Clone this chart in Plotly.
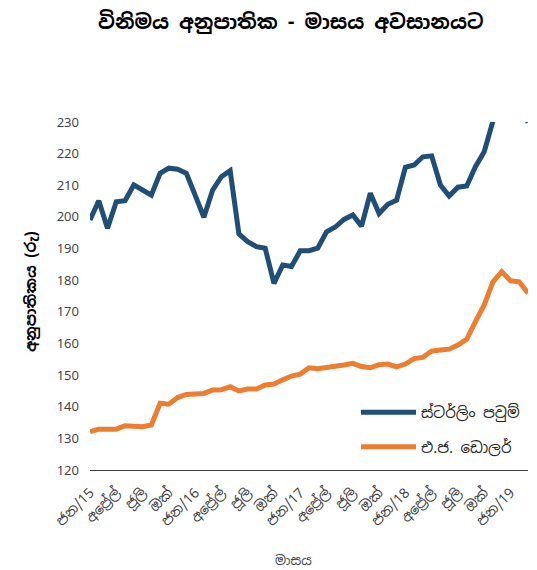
import plotly.graph_objects as go

tick_labels = ["ජන/15", "අප්‍රේල්", "ජූලි", "ඔක්", "ජන/16", "අප්‍රේල්", "ජූලි", "ඔක්",
               "ජන/17", "අප්‍රේල්", "ජූලි", "ඔක්", "ජන/18", "අප්‍රේල්", "ජූලි", "ඔක්", "ජන/19"]

months = list(range(51))  # Jan 2015 .. Mar 2019, month-end

gbp = [199.0, 205.1, 196.4, 204.8, 205.1, 210.1, 208.5, 206.9, 213.8, 215.4,
       215.1, 213.8, 206.9, 199.9, 208.5, 212.7, 214.6, 194.6, 192.2, 190.6,
       190.1, 179.0, 184.8, 184.3, 189.3, 189.3, 190.1, 195.3, 196.8, 199.2,
       200.6, 197.1, 207.5, 201.1, 204.0, 205.3, 215.7, 216.4, 219.0, 219.3,
       210.1, 206.6, 209.4, 209.8, 215.9, 220.6, 230.3, 232.5, 236.5, 238.5,
       229.8]

usd = [132.1, 132.9, 132.9, 132.9, 134.0, 133.7, 133.7, 134.2, 141.1, 140.8,
       142.9, 143.9, 143.9, 144.2, 145.3, 145.4, 146.3, 145.0, 145.6, 145.6,
       146.9, 147.2, 148.5, 149.7, 150.3, 152.3, 152.0, 152.3, 152.7, 153.2,
       153.7, 152.7, 152.3, 153.3, 153.5, 152.6, 153.5, 155.2, 155.6, 157.6,
       157.9, 158.2, 159.5, 161.3, 166.9, 172.2, 179.5, 182.7, 179.8, 179.5,
       175.9]

series_names = ["ස්ටර්ලිං පවුම්", "එ.ජ. ඩොලර්"]
title_text = "විනිමය අනුපාතික - මාසය අවසානයට"
y_title = "අනුපාතිකය (රු)"
x_title = "මාසය"

FONT = "Noto Sans Sinhala, Noto Sans, DejaVu Sans, sans-serif"

# page has an 8px body margin
OFF = 8
W, H = 537 - OFF, 570 - OFF
L, R, T, B = 90 - OFF, 9, 122 - OFF, 100
pw, ph = W - L - R, H - T - B


def px2paper(px, py):
    return (px - OFF - L) / pw, (H - B - (py - OFF)) / ph


fig = go.Figure()
fig.add_trace(go.Scatter(x=months, y=gbp, mode="lines", name=series_names[0],
                         line=dict(color="#1F4E79", width=5), legendgroup="a"))
fig.add_trace(go.Scatter(x=months, y=usd, mode="lines", name=series_names[1],
                         line=dict(color="#ED7D31", width=5), legendgroup="b"))

ann = []
for text, (px, py), size, color, angle in [
    ("<b>" + title_text + "</b>", (290, 22), 20, "#000000", 0),
    ("<b>" + y_title + "</b>", (30, 292), 15, "#000000", -90),
    (x_title, (293, 560), 13, "#404040", 0),
]:
    xp, yp = px2paper(px, py)
    ann.append(dict(text=text, x=xp, y=yp, xref="paper", yref="paper",
                    xanchor="center", yanchor="middle", showarrow=False,
                    textangle=angle, font=dict(size=size, color=color)))

lx, ly = px2paper(356, 396)

fig.update_layout(
    width=W, height=H,
    margin=dict(l=L, r=R, t=T, b=B),
    paper_bgcolor="white", plot_bgcolor="white",
    font=dict(family=FONT, color="#404040", size=13),
    showlegend=True,
    legend=dict(x=lx, y=ly, xanchor="left", yanchor="top",
                itemwidth=55, tracegroupgap=12,
                font=dict(size=15, color="#262626"),
                bgcolor="rgba(0,0,0,0)"),
    xaxis=dict(range=[0, 50], tickmode="array",
               tickvals=months[::3], ticktext=tick_labels,
               tickangle=-45, showgrid=False, zeroline=False,
               showline=True, linecolor="#404040", linewidth=1,
               ticks="", ticklabelstandoff=8,
               tickfont=dict(size=14, color="#404040")),
    yaxis=dict(range=[120, 230], tickmode="array",
               tickvals=list(range(120, 231, 10)),
               showgrid=False, zeroline=False, showline=False,
               ticks="", ticklabelstandoff=10,
               tickfont=dict(size=13, color="#404040")),
    annotations=ann,
)

fig.write_html("out.html")
